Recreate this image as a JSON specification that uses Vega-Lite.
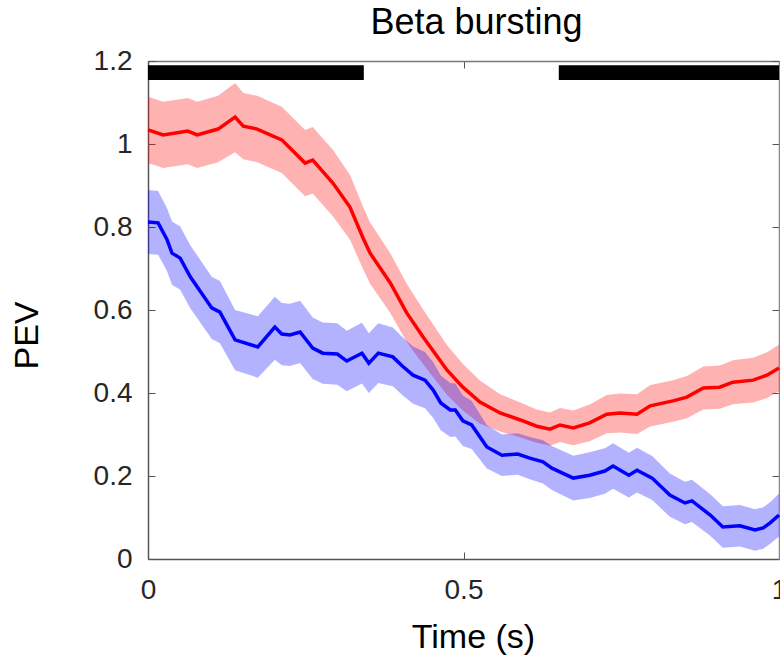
{
  "$schema": "https://vega.github.io/schema/vega-lite/v6.json",
  "width": 631,
  "height": 498,
  "autosize": {"type": "none"},
  "padding": {"left": 148, "top": 61, "right": 1, "bottom": 97},
  "background": "white",
  "config": {
    "font": "Liberation Sans",
    "view": {"stroke": null},
    "axis": {"grid": false}
  },
  "title": {
    "text": "Beta bursting",
    "fontSize": 36,
    "fontWeight": "normal",
    "font": "Liberation Sans",
    "color": "#000000",
    "anchor": "middle",
    "baseline": "alphabetic",
    "frame": "group",
    "offset": 25,
    "dx": 13,
    "dy": 48
  },
  "datasets": {
    "red": [
      {"t": 0.000, "v": 1.034, "lo": 0.954, "hi": 1.114},
      {"t": 0.024, "v": 1.022, "lo": 0.942, "hi": 1.102},
      {"t": 0.063, "v": 1.031, "lo": 0.951, "hi": 1.111},
      {"t": 0.078, "v": 1.022, "lo": 0.942, "hi": 1.102},
      {"t": 0.111, "v": 1.036, "lo": 0.956, "hi": 1.116},
      {"t": 0.138, "v": 1.065, "lo": 0.980, "hi": 1.147},
      {"t": 0.151, "v": 1.043, "lo": 0.963, "hi": 1.123},
      {"t": 0.173, "v": 1.036, "lo": 0.956, "hi": 1.116},
      {"t": 0.212, "v": 1.010, "lo": 0.930, "hi": 1.090},
      {"t": 0.249, "v": 0.954, "lo": 0.874, "hi": 1.034},
      {"t": 0.261, "v": 0.961, "lo": 0.881, "hi": 1.041},
      {"t": 0.293, "v": 0.906, "lo": 0.826, "hi": 0.986},
      {"t": 0.320, "v": 0.848, "lo": 0.770, "hi": 0.926},
      {"t": 0.341, "v": 0.773, "lo": 0.698, "hi": 0.848},
      {"t": 0.352, "v": 0.737, "lo": 0.663, "hi": 0.811},
      {"t": 0.384, "v": 0.665, "lo": 0.593, "hi": 0.737},
      {"t": 0.410, "v": 0.593, "lo": 0.523, "hi": 0.663},
      {"t": 0.436, "v": 0.535, "lo": 0.469, "hi": 0.601},
      {"t": 0.474, "v": 0.455, "lo": 0.395, "hi": 0.515},
      {"t": 0.499, "v": 0.414, "lo": 0.358, "hi": 0.470},
      {"t": 0.526, "v": 0.378, "lo": 0.326, "hi": 0.430},
      {"t": 0.558, "v": 0.352, "lo": 0.307, "hi": 0.397},
      {"t": 0.590, "v": 0.335, "lo": 0.293, "hi": 0.377},
      {"t": 0.616, "v": 0.320, "lo": 0.280, "hi": 0.360},
      {"t": 0.637, "v": 0.313, "lo": 0.273, "hi": 0.353},
      {"t": 0.653, "v": 0.323, "lo": 0.282, "hi": 0.364},
      {"t": 0.674, "v": 0.316, "lo": 0.274, "hi": 0.358},
      {"t": 0.700, "v": 0.328, "lo": 0.284, "hi": 0.372},
      {"t": 0.727, "v": 0.349, "lo": 0.303, "hi": 0.395},
      {"t": 0.748, "v": 0.352, "lo": 0.305, "hi": 0.399},
      {"t": 0.775, "v": 0.349, "lo": 0.301, "hi": 0.397},
      {"t": 0.796, "v": 0.369, "lo": 0.319, "hi": 0.419},
      {"t": 0.832, "v": 0.381, "lo": 0.331, "hi": 0.431},
      {"t": 0.854, "v": 0.390, "lo": 0.339, "hi": 0.441},
      {"t": 0.880, "v": 0.412, "lo": 0.360, "hi": 0.464},
      {"t": 0.906, "v": 0.414, "lo": 0.362, "hi": 0.466},
      {"t": 0.927, "v": 0.426, "lo": 0.373, "hi": 0.479},
      {"t": 0.959, "v": 0.431, "lo": 0.377, "hi": 0.485},
      {"t": 0.981, "v": 0.443, "lo": 0.388, "hi": 0.498},
      {"t": 1.000, "v": 0.460, "lo": 0.404, "hi": 0.516}
    ],
    "blue": [
      {"t": 0.000, "v": 0.812, "lo": 0.735, "hi": 0.889},
      {"t": 0.016, "v": 0.810, "lo": 0.733, "hi": 0.887},
      {"t": 0.030, "v": 0.770, "lo": 0.694, "hi": 0.846},
      {"t": 0.038, "v": 0.737, "lo": 0.661, "hi": 0.813},
      {"t": 0.051, "v": 0.725, "lo": 0.649, "hi": 0.801},
      {"t": 0.067, "v": 0.680, "lo": 0.604, "hi": 0.756},
      {"t": 0.101, "v": 0.605, "lo": 0.530, "hi": 0.680},
      {"t": 0.114, "v": 0.595, "lo": 0.520, "hi": 0.670},
      {"t": 0.138, "v": 0.528, "lo": 0.455, "hi": 0.600},
      {"t": 0.174, "v": 0.511, "lo": 0.437, "hi": 0.585},
      {"t": 0.201, "v": 0.559, "lo": 0.480, "hi": 0.632},
      {"t": 0.212, "v": 0.542, "lo": 0.467, "hi": 0.617},
      {"t": 0.225, "v": 0.540, "lo": 0.465, "hi": 0.615},
      {"t": 0.241, "v": 0.547, "lo": 0.472, "hi": 0.622},
      {"t": 0.261, "v": 0.508, "lo": 0.434, "hi": 0.582},
      {"t": 0.277, "v": 0.496, "lo": 0.422, "hi": 0.570},
      {"t": 0.300, "v": 0.494, "lo": 0.420, "hi": 0.568},
      {"t": 0.315, "v": 0.477, "lo": 0.404, "hi": 0.550},
      {"t": 0.339, "v": 0.496, "lo": 0.423, "hi": 0.569},
      {"t": 0.350, "v": 0.472, "lo": 0.400, "hi": 0.544},
      {"t": 0.365, "v": 0.496, "lo": 0.424, "hi": 0.568},
      {"t": 0.388, "v": 0.487, "lo": 0.416, "hi": 0.558},
      {"t": 0.403, "v": 0.465, "lo": 0.395, "hi": 0.535},
      {"t": 0.420, "v": 0.443, "lo": 0.374, "hi": 0.512},
      {"t": 0.439, "v": 0.431, "lo": 0.363, "hi": 0.499},
      {"t": 0.452, "v": 0.407, "lo": 0.340, "hi": 0.474},
      {"t": 0.464, "v": 0.376, "lo": 0.310, "hi": 0.442},
      {"t": 0.479, "v": 0.359, "lo": 0.294, "hi": 0.424},
      {"t": 0.487, "v": 0.359, "lo": 0.295, "hi": 0.423},
      {"t": 0.499, "v": 0.333, "lo": 0.272, "hi": 0.394},
      {"t": 0.513, "v": 0.323, "lo": 0.265, "hi": 0.381},
      {"t": 0.537, "v": 0.270, "lo": 0.218, "hi": 0.322},
      {"t": 0.561, "v": 0.250, "lo": 0.200, "hi": 0.300},
      {"t": 0.586, "v": 0.253, "lo": 0.203, "hi": 0.303},
      {"t": 0.605, "v": 0.243, "lo": 0.192, "hi": 0.294},
      {"t": 0.626, "v": 0.234, "lo": 0.182, "hi": 0.286},
      {"t": 0.640, "v": 0.219, "lo": 0.166, "hi": 0.272},
      {"t": 0.674, "v": 0.195, "lo": 0.141, "hi": 0.249},
      {"t": 0.700, "v": 0.202, "lo": 0.147, "hi": 0.257},
      {"t": 0.724, "v": 0.212, "lo": 0.157, "hi": 0.267},
      {"t": 0.737, "v": 0.224, "lo": 0.169, "hi": 0.279},
      {"t": 0.762, "v": 0.202, "lo": 0.148, "hi": 0.256},
      {"t": 0.775, "v": 0.214, "lo": 0.160, "hi": 0.268},
      {"t": 0.799, "v": 0.195, "lo": 0.142, "hi": 0.248},
      {"t": 0.827, "v": 0.154, "lo": 0.102, "hi": 0.206},
      {"t": 0.851, "v": 0.135, "lo": 0.084, "hi": 0.186},
      {"t": 0.862, "v": 0.140, "lo": 0.089, "hi": 0.191},
      {"t": 0.891, "v": 0.106, "lo": 0.056, "hi": 0.156},
      {"t": 0.911, "v": 0.077, "lo": 0.027, "hi": 0.127},
      {"t": 0.938, "v": 0.080, "lo": 0.030, "hi": 0.130},
      {"t": 0.962, "v": 0.070, "lo": 0.020, "hi": 0.120},
      {"t": 0.975, "v": 0.075, "lo": 0.025, "hi": 0.125},
      {"t": 0.986, "v": 0.087, "lo": 0.037, "hi": 0.137},
      {"t": 1.000, "v": 0.106, "lo": 0.054, "hi": 0.158}
    ],
    "bars": [
      {"start": 0.0, "end": 0.342, "ylo": 1.154, "yhi": 1.19},
      {"start": 0.651, "end": 1.0, "ylo": 1.154, "yhi": 1.19}
    ]
  },
  "layer": [
    {
      "layer": [
        {
          "data": {"name": "red"},
          "mark": {"type": "area", "color": "#ff0000", "opacity": 0.3},
          "encoding": {
            "x": {"field": "t", "type": "quantitative"},
            "y": {"field": "lo", "type": "quantitative"},
            "y2": {"field": "hi"}
          }
        },
        {
          "data": {"name": "blue"},
          "mark": {"type": "area", "color": "#0000ff", "opacity": 0.3},
          "encoding": {
            "x": {"field": "t", "type": "quantitative"},
            "y": {"field": "lo", "type": "quantitative"},
            "y2": {"field": "hi"}
          }
        },
        {
          "data": {"name": "red"},
          "mark": {"type": "line", "color": "#ff0000", "strokeWidth": 3.5},
          "encoding": {
            "x": {"field": "t", "type": "quantitative"},
            "y": {"field": "v", "type": "quantitative"}
          }
        },
        {
          "data": {"name": "blue"},
          "mark": {"type": "line", "color": "#0000ff", "strokeWidth": 3.5},
          "encoding": {
            "x": {"field": "t", "type": "quantitative"},
            "y": {"field": "v", "type": "quantitative"}
          }
        }
      ],
      "encoding": {
        "x": {
          "field": "t", "type": "quantitative",
          "scale": {"domain": [0, 1], "nice": false, "zero": false},
          "axis": {
            "orient": "bottom",
            "values": [0, 0.5, 1],
            "format": "~g",
            "labelFlush": false,
            "labelFontSize": 28,
            "labelColor": "#262626",
            "labelPadding": 24,
            "tickSize": -7,
            "tickColor": "#555555",
            "domainColor": "#555555",
            "domainWidth": 1.5,
            "title": "Time (s)",
            "titleFontSize": 34,
            "titleFontWeight": "normal",
            "titleColor": "#000000",
            "titleX": 325,
            "titleY": 88,
            "titleBaseline": "alphabetic",
            "titleAlign": "center"
          }
        },
        "y": {
          "field": "v", "type": "quantitative",
          "scale": {"domain": [0, 1.2], "nice": false, "zero": false},
          "axis": {
            "orient": "left",
            "values": [0, 0.2, 0.4, 0.6, 0.8, 1, 1.2],
            "format": "~g",
            "labelFontSize": 28,
            "labelColor": "#262626",
            "labelPadding": 23,
            "tickSize": -7,
            "tickColor": "#555555",
            "domainColor": "#555555",
            "domainWidth": 1.5,
            "title": "PEV",
            "titleFontSize": 34,
            "titleFontWeight": "normal",
            "titleColor": "#000000",
            "titleAngle": -90,
            "titleX": -121,
            "titleY": 274,
            "titleBaseline": "middle",
            "titleAlign": "center"
          }
        }
      }
    },
    {
      "data": {"name": "bars"},
      "mark": {"type": "rect", "color": "#000000"},
      "encoding": {
        "x": {
          "field": "start", "type": "quantitative",
          "scale": {"domain": [0, 1], "nice": false, "zero": false},
          "axis": {
            "orient": "top", "values": [0, 0.5, 1], "labels": false,
            "tickSize": -7, "tickColor": "#555555",
            "domainColor": "#777777", "domainWidth": 1.5, "title": null
          }
        },
        "x2": {"field": "end"},
        "y": {
          "field": "ylo", "type": "quantitative",
          "scale": {"domain": [0, 1.2], "nice": false, "zero": false},
          "axis": {
            "orient": "right", "values": [0, 0.2, 0.4, 0.6, 0.8, 1, 1.2], "labels": false,
            "tickSize": -7, "tickColor": "#555555",
            "domainColor": "#888888", "domainWidth": 1.5, "title": null
          }
        },
        "y2": {"field": "yhi"}
      }
    }
  ],
  "resolve": {"axis": {"x": "independent", "y": "independent"}}
}
